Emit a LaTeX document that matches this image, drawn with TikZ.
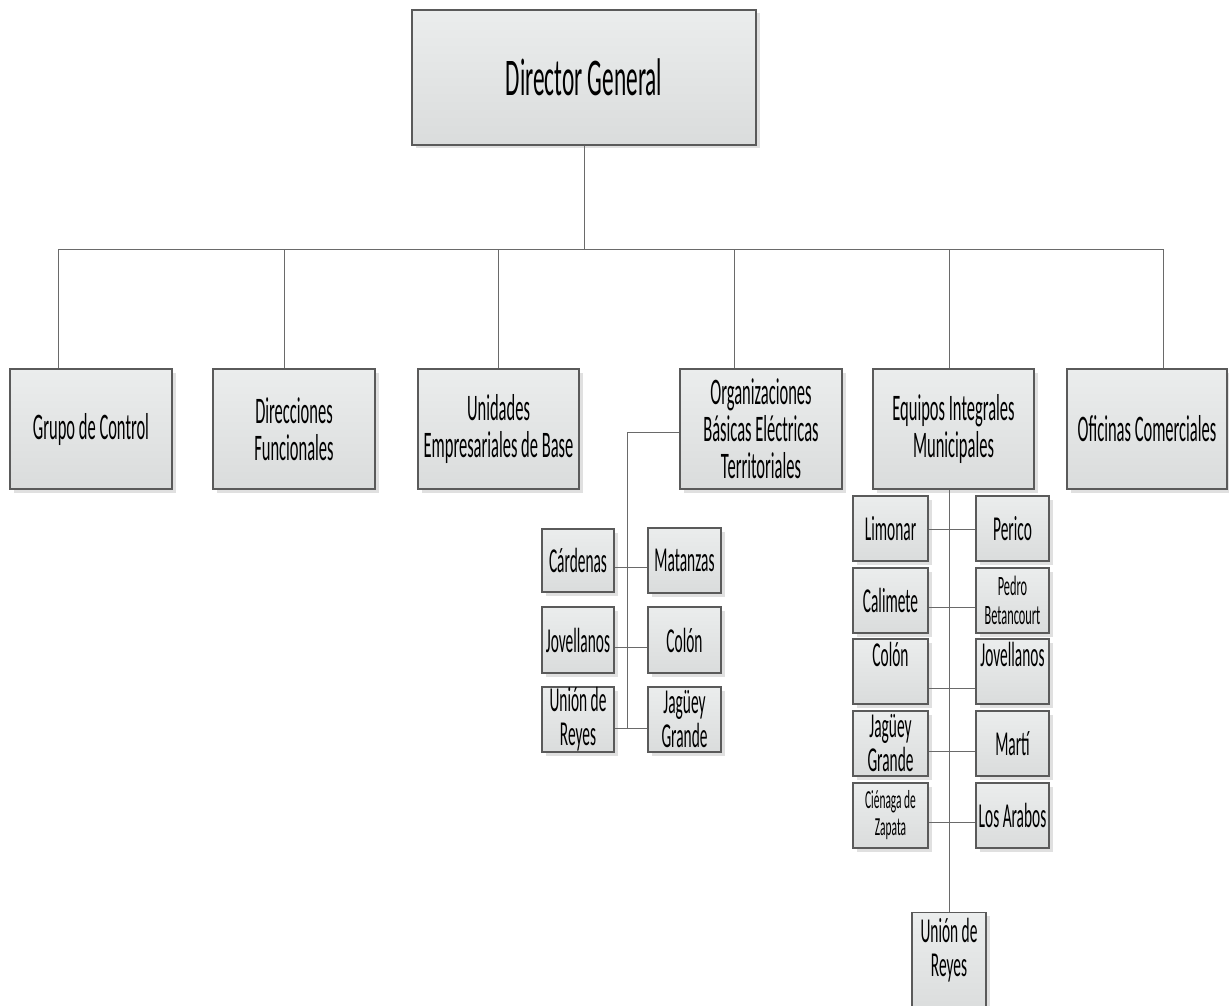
\documentclass[tikz,border=0pt]{standalone}
\usepackage{fontspec}
\usetikzlibrary{shadows}
\newfontfamily\cf[FakeStretch=0.44]{Carlito}
\definecolor{boxline}{HTML}{5A5A5A}
\definecolor{boxtop}{HTML}{EBEDED}
\definecolor{boxbot}{HTML}{DADCDC}
\definecolor{shadowc}{HTML}{E0E0E0}
\definecolor{linec}{HTML}{6A6A6A}
\tikzset{
  box/.style={draw=boxline, line width=1.1pt, top color=boxtop, bottom color=boxbot,
    drop shadow={shadow xshift=3.5pt, shadow yshift=-3.5pt, fill=shadowc, opacity=1},
    align=center, inner sep=0pt, text=black},
  topbox/.style={box, minimum width=344pt, minimum height=135pt, font=\cf\fontsize{53}{58}\selectfont},
  midbox/.style={box, minimum width=162pt, minimum height=120pt, font=\cf\fontsize{37.5}{37}\selectfont},
  subbox/.style={box, minimum width=73pt, minimum height=65pt, font=\cf\fontsize{35}{34}\selectfont},
  smalltext/.style={font=\cf\fontsize{28}{29}\selectfont},
  conn/.style={draw=linec, line width=1pt}
}
\begin{document}
\begin{tikzpicture}[x=1pt,y=1pt]
\useasboundingbox (0,0) rectangle (1229,-1006);
% top
\node[topbox] (dir) at (584,-77.5) {Director General};
% level 2
\node[midbox] (grupo) at (91,-429) {Grupo de Control};
\node[midbox] (direc) at (294,-429) {Direcciones\\Funcionales};
\node[midbox, minimum width=161pt] (unid) at (498.5,-429) {Unidades\\Empresariales de Base};
\node[midbox] (obet) at (761,-429) {Organizaciones\\Básicas Eléctricas\\Territoriales};
\node[midbox, minimum width=161pt] (equip) at (953.5,-429) {Equipos Integrales\\Municipales};
\node[midbox, minimum width=160pt] (ofic) at (1147,-429) {Oficinas Comerciales};
% bus
\coordinate (busL) at (58,-249);
\coordinate (busR) at (1163,-249);
\coordinate (s1) at (58,-249);
\coordinate (s2) at (284,-249);
\coordinate (s3) at (498,-249);
\coordinate (s4) at (734,-249);
\coordinate (s5) at (949,-249);
\coordinate (s6) at (1163,-249);
\draw[conn] (dir.south) -- (dir.south |- busL);
\draw[conn] (busL) -- (busR);
\draw[conn] (s1) -- (s1 |- grupo.north);
\draw[conn] (s2) -- (s2 |- direc.north);
\draw[conn] (s3) -- (s3 |- unid.north);
\draw[conn] (s4) -- (s4 |- obet.north);
\draw[conn] (s5) -- (s5 |- equip.north);
\draw[conn] (s6) -- (s6 |- ofic.north);
% OBET subs
\node[subbox, minimum width=72pt, minimum height=63pt] (card) at (578,-560.5) {Cárdenas};
\node[subbox] (mat) at (684.5,-560.5) {Matanzas};
\node[subbox, minimum width=72pt, minimum height=66pt] (jov1) at (578,-640) {Jovellanos};
\node[subbox, minimum height=66pt] (col1) at (684.5,-640) {Colón};
\node[subbox, minimum width=72pt] (uni1) at (578,-719.5) {Unión de\\Reyes};
\node[subbox] (jag1) at (684.5,-719.5) {Jagüey\\Grande};
\coordinate (ov) at (627,-432);
\coordinate (r1) at (627,-567);
\coordinate (r2) at (627,-647);
\coordinate (r3) at (627,-728);
\draw[conn] (obet.west |- ov) -- (ov) -- (r3);
\draw[conn] (card.east |- r1) -- (mat.west |- r1);
\draw[conn] (jov1.east |- r2) -- (col1.west |- r2);
\draw[conn] (uni1.east |- r3) -- (jag1.west |- r3);
% Equipos subs
\node[subbox, minimum width=75pt] (lim) at (890.5,-528.5) {Limonar};
\node[subbox] (per) at (1012.5,-528.5) {Perico};
\node[subbox, minimum width=75pt] (cal) at (890.5,-600.5) {Calimete};
\node[subbox, smalltext] (ped) at (1012.5,-600.5) {Pedro\\Betancourt};
\node[subbox, minimum width=75pt] (col2) at (890.5,-671.5) {Colón\\\phantom{X}};
\node[subbox] (jov2) at (1012.5,-671.5) {Jovellanos\\\phantom{X}};
\node[subbox, minimum width=75pt] (jag2) at (890.5,-743.5) {Jagüey\\Grande};
\node[subbox] (mar) at (1012.5,-743.5) {Martí};
\node[subbox, minimum width=75pt, font=\cf\fontsize{26}{27}\selectfont] (cien) at (890.5,-815.5) {Ciénaga de\\Zapata};
\node[subbox] (ara) at (1012.5,-815.5) {Los Arabos};
\node[subbox, minimum width=74pt, minimum height=103pt, anchor=north] (uni2) at (949,-912) {Unión de\\Reyes\\\phantom{X}};
\coordinate (e1) at (949,-529);
\coordinate (e2) at (949,-607);
\coordinate (e3) at (949,-688);
\coordinate (e4) at (949,-751);
\coordinate (e5) at (949,-822);
\draw[conn] (equip.south -| e1) -- (uni2.north -| e1);
\draw[conn] (lim.east |- e1) -- (per.west |- e1);
\draw[conn] (cal.east |- e2) -- (ped.west |- e2);
\draw[conn] (col2.east |- e3) -- (jov2.west |- e3);
\draw[conn] (jag2.east |- e4) -- (mar.west |- e4);
\draw[conn] (cien.east |- e5) -- (ara.west |- e5);
\end{tikzpicture}
\end{document}
